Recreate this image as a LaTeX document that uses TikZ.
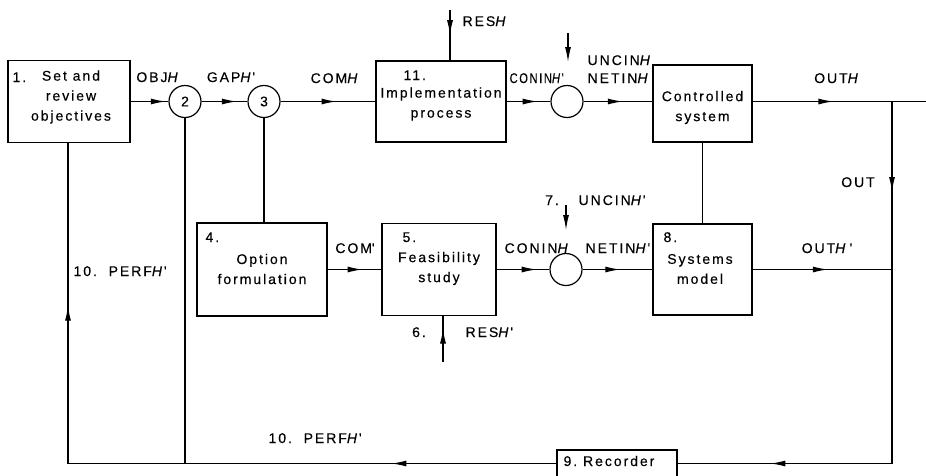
\documentclass[tikz,border=0pt]{standalone}
\usepackage{fontspec}
\setmainfont{Liberation Sans}[LetterSpace=14, FakeBold=0.3]
\usetikzlibrary{arrows.meta,decorations.markings}
\newcommand\Hit{\textit{H}}
\newcommand\prm{\textquotesingle}
\tikzset{
  tipshape/.tip={Latex[length=15pt,width=6pt]},
  box/.style={draw, rectangle, inner sep=0pt},
  boxtext/.style={inner sep=0pt, align=center},
  junc/.style={draw, circle, minimum size=32pt, inner sep=0pt},
  lab/.style={inner sep=0pt},
  arrat/.style={postaction={decorate},
    decoration={markings, mark=at position #1 with {\arrow{tipshape}}}},
  arrtwo/.style 2 args={postaction={decorate},
    decoration={markings,
      mark=at position #1 with {\arrow{tipshape}},
      mark=at position #2 with {\arrow{tipshape}}}},
  tipend/.style={-tipshape},
}
\begin{document}
\begin{tikzpicture}[x=1pt, y=-1pt, line width=1.2pt,
  font=\fontsize{14}{20}\selectfont]
\useasboundingbox (0,0) rectangle (926,475);

% ---- upper (real) loop ----
\node[box, minimum width=122pt, minimum height=82pt] (b1) at (69,101.5) {};
\node[boxtext] (t1) at (71,97) {Set and\\review\\objectives};
\node[lab, anchor=base west] (n1) at (12,82) {1.};
\node[junc] (c2) at (185,101.5) {2};
\node[junc] (c3) at (264,101.5) {3};
\node[box, minimum width=130pt, minimum height=81pt] (b11) at (441,101.5) {};
\node[boxtext] (t11) at (441,104) {Implementation\\process};
\node[lab, anchor=base west] (n11) at (403,80) {11.};
\node[junc] (c0) at (567,101.5) {};
\node[box, minimum width=99pt, minimum height=77pt] (bcs) at (702.5,103.5) {};
\node[boxtext] (tcs) at (702.5,107.5) {Controlled\\system};

% ---- lower (model) loop ----
\node[box, minimum width=130pt, minimum height=93pt] (b4) at (262,269.5) {};
\node[boxtext] (t4) at (262,269) {Option\\formulation};
\node[lab, anchor=base west] (n4) at (205,242) {4.};
\node[box, minimum width=114pt, minimum height=92pt] (b5) at (439,269.5) {};
\node[boxtext] (t5) at (439,268.5) {Feasibility\\study};
\node[lab, anchor=base west] (n5) at (402,242) {5.};
\node[junc] (c1) at (566,269.5) {};
\node[box, minimum width=99pt, minimum height=91pt] (b8) at (702.5,269.5) {};
\node[boxtext] (t8) at (700,269) {Systems\\model};
\node[lab, anchor=base west] (n8) at (663,242) {8.};

% ---- recorder ----
\node[box, minimum width=120pt, minimum height=27pt] (rec) at (617,463.5) {};
\node[lab, anchor=base west] (trec) at (563,466) {9.\ Recorder};

% ---- free ends and corners ----
\coordinate (resTop) at (450,10);
\coordinate (unTop) at (568,33);
\coordinate (unTip) at (568,62);
\coordinate (tapA) at (892,101.5);
\coordinate (outEnd) at (926,101.5);
\coordinate (tapB) at (892,269.5);
\coordinate (cornR) at (892,463.5);
\coordinate (cornL) at (68,463.5);
\coordinate (j2) at (185,463.5);
\coordinate (unTop2) at (566,205);
\coordinate (unTip2) at (566,230);
\coordinate (resBot) at (443,362);

% ---- upper connectors ----
\draw[arrat=0.93] (b1.east) -- (c2.west);
\draw[arrat=0.77] (c2.east) -- (c3.west);
\draw[arrat=0.59] (c3.east) -- (b11.west |- c3.east);
\draw[arrat=0.71] (b11.east) -- (c0.west);
\draw[arrat=0.57] (c0.east) -- (bcs.west |- c0.east);
\draw[arrat=0.58] (bcs.east |- tapA) -- (tapA);
\draw (tapA) -- (outEnd);
\draw[arrat=0.5] (resTop) -- (resTop |- b11.north);
\draw[tipend] (unTop) -- (unTip);

% ---- vertical links ----
\draw (c3.south) -- (c3.south |- b4.north);
\draw (bcs.south) -- (b8.north);
\draw (c2.south) -- (j2);

% ---- lower connectors ----
\draw[arrat=0.65] (b4.east) -- (b5.west);
\draw[arrat=0.76] (b5.east) -- (c1.west);
\draw[arrat=0.54] (c1.east) -- (b8.west);
\draw[arrat=0.54] (b8.east) -- (tapB);
\draw[arrat=0.73] (resBot) -- (resBot |- b5.south);
\draw[tipend] (unTop2) -- (unTip2);

% ---- feedback ----
\draw[arrtwo={0.157}{0.839}] (tapA) -- (cornR) -- (rec.east);
\draw[arrtwo={0.204}{0.799}] (rec.west) -- (cornL) -- (b1.south -| cornL);

% ---- signal labels ----
\node[lab, anchor=base] (lObj) at (158,82) {OBJ\Hit};
\node[lab, anchor=base] (lGap) at (231,82) {GAP\Hit\prm};
\node[lab, anchor=base] (lCom) at (335,83) {COM\Hit};
\node[lab, anchor=base west] (lRes) at (462,26) {RES\Hit};
\node[lab, anchor=base west] (lConin) at (509,83) {\scalebox{0.8}[1]{CONIN\Hit\prm}};
\node[lab, anchor=base west] (lUnc) at (587,65) {UNCIN\Hit};
\node[lab, anchor=base west] (lNet) at (587,83) {NETIN\Hit};
\node[lab, anchor=base] (lOut) at (837,83) {OUT\Hit};
\node[lab, anchor=base] (lO) at (858,187) {OUT};
\node[lab, anchor=base west] (lPerf) at (73,276) {10.\ \ PERF\Hit\prm};
\node[lab, anchor=base] (lComp) at (355,253) {COM\prm};
\node[lab, anchor=base west] (lConin2) at (504,253) {CONIN\Hit};
\node[lab, anchor=base] (l7) at (552,205) {7.};
\node[lab, anchor=base west] (lUnc2) at (578,205) {UNCIN\Hit\prm};
\node[lab, anchor=base west] (lNet2) at (585,253) {NETIN\Hit\prm};
\node[lab, anchor=base] (lOut2) at (827,253) {OUT\Hit\,\prm};
\node[lab, anchor=base] (l6) at (419,337) {6.};
\node[lab, anchor=base west] (lRes2) at (465,337) {RES\Hit\prm};
\node[lab, anchor=base west] (lPerf2) at (268,443) {10.\ \ PERF\Hit\prm};
\end{tikzpicture}
\end{document}
